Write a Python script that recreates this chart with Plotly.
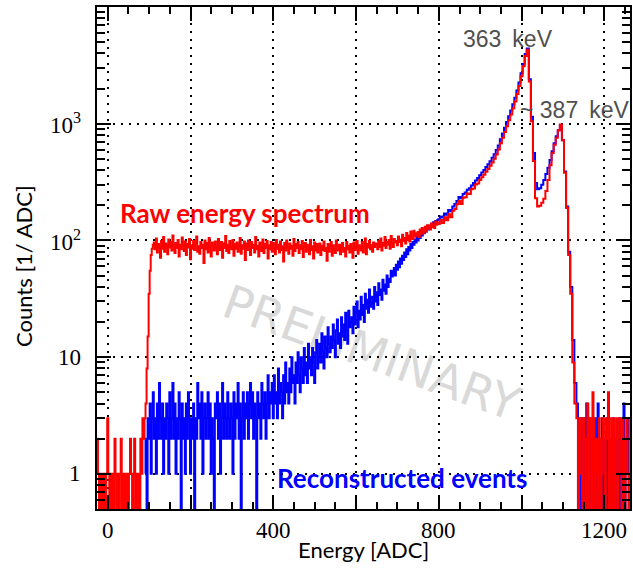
import math
import plotly.graph_objects as go

# ---------------- data ----------------
# Histogram bin layout: (centre of first bin [ADC], bin width [ADC]) per segment
FINE_START_RAW = -25
FINE_START_REC = 90
FINE_WIDTH = 2.5
COARSE_START = 800
COARSE_WIDTH = 5
TAIL_START = 1135
TAIL_WIDTH = 2.5

# Raw energy spectrum (red), counts per ADC
raw_low = [2, 1, 0, 1, 0, 1, 0, 1, 0, 1, 3, 1, 0, 1, 0, 1, 0, 2, 1, 0,
           1, 0, 1, 2, 0, 1, 0, 1, 0, 1, 0, 1, 2, 1, 0, 1, 2, 0, 1, 0,
           1, 0, 2, 1, 3, 2]
raw_edge = [3, 4, 8, 15, 35, 55, 75, 85, 92]
raw_plateau = [
    96, 84, 104, 79, 93, 88, 71, 99, 85, 107, 80, 94, 90, 76, 102, 87, 97, 82, 110, 89,
    78, 95, 86, 101, 73, 92, 84, 106, 90, 81, 98, 75, 93, 87, 103, 69, 91, 85, 99, 83,
    94, 108, 80, 89, 77, 97, 86, 92, 64, 100, 84, 95, 79, 105, 88, 73, 96, 91, 82, 98,
    87, 76, 103, 90, 83, 97, 71, 94, 86, 109, 81, 92, 78, 99, 88, 84, 101, 74, 93, 85,
    96, 80, 89, 105, 77, 91, 85, 98, 68, 94, 83, 100, 88, 75, 97, 86, 92, 79, 107, 84,
    90, 73, 96, 87, 81, 102, 78, 93, 86, 99, 70, 91, 84, 97, 80, 95, 88, 76, 101, 85,
    92, 79, 98, 83, 89, 66, 95, 82, 100, 87, 77, 94, 85, 90, 74, 103, 81, 93, 86, 97,
    78, 91, 84, 99, 72, 88, 95, 80, 92, 85, 76, 101, 83, 89, 70, 96, 82, 93, 79, 87,
    94, 75, 90, 83, 98, 81, 86, 67, 93, 80, 89, 97, 74, 91, 84, 78, 100, 85, 82, 92,
    76, 88, 95, 80, 86, 73, 97, 84, 90, 79, 93, 85, 71, 96, 83, 88, 99, 77, 91, 86,
    82, 97, 79, 90, 104, 76, 93, 87, 99, 84, 91, 80, 96, 88, 94,
]
raw_rise = [
    93, 84, 99, 88, 104, 82, 95, 90, 107, 86, 97, 92, 101, 85, 109, 94, 88, 103, 96, 99,
    91, 108, 97, 102, 89, 112, 99, 105, 94, 116, 101, 110, 98, 119, 106, 103, 121, 108, 115, 111,
    118, 107, 124, 113, 128, 116, 122, 131, 119, 135, 126, 132, 124, 140, 130, 137, 128, 145, 136, 142,
]
raw_upper = [
    138, 150, 141, 158, 149, 168, 158, 180, 186, 204,
    218, 205, 232, 234, 252, 250, 274, 279, 302, 308,
    330, 348, 366, 388, 410, 436, 466, 500, 545, 600,
    680, 760, 850, 950, 1070, 1200, 1360, 1550, 1800, 2100,
    2550, 3100,
]
raw_peaks = [3800, 4300, 2300, 1050, 480, 230, 195, 198, 210, 228, 265, 330, 440,
             560, 660, 760, 880, 985, 720, 380, 190, 75, 35, 9, 4]
raw_tail = [3, 0, 2, 3, 1, 0, 3, 2, 0, 2, 4, 0, 3, 2, 0, 5, 3, 0, 2, 1,
            0, 3, 2, 0, 2, 3, 1, 0, 3, 2, 5, 0, 2, 3, 0, 3, 0, 2, 3, 0,
            1, 3, 2, 0, 3, 2, 0, 2, 3, 1, 0]

# Reconstructed events (blue), counts per ADC
rec_low = [
    1, 2, 0, 3, 2, 4, 1, 3, 5, 2, 3, 1, 4, 2, 6, 3, 2, 4, 1, 3,
    2, 4, 3, 1, 5, 2, 3, 6, 2, 4, 1, 3, 2, 5, 3, 0, 4, 2, 3, 1,
    4, 2, 5, 3, 1, 3, 2, 4, 0, 3, 2, 6, 3, 4, 2, 5, 1, 3, 4, 2,
    3, 5, 2, 4, 1, 3, 2, 0, 4, 3, 5, 2, 4, 1, 3, 6, 2, 4, 3, 2,
    5, 3, 2, 4, 3, 1, 5, 2, 4, 3, 6, 2, 4, 0, 3, 5, 2, 4, 3, 5,
    2, 4, 6, 3, 5, 2, 4, 3, 0, 5, 3, 4, 2, 6, 4, 3, 5, 2, 4, 7,
]
rec_rise = [
    3, 5, 4, 6, 3, 7, 4, 5, 3, 8, 4, 6, 5, 3, 7, 4, 9, 5, 6, 4,
    8, 5, 10, 6, 7, 4, 9, 6, 11, 7, 5, 10, 8, 6, 12, 7, 9, 6, 13, 8,
    10, 7, 12, 9, 6, 11, 14, 8, 10, 13, 9, 16, 11, 8, 15, 12, 10, 18, 13, 11,
    15, 12, 19, 14, 10, 17, 21, 13, 16, 12, 22, 15, 19, 14, 24, 17, 13, 25, 18, 20,
    22, 16, 27, 19, 24, 30, 18, 25, 21, 33, 23, 28, 20, 35, 26, 31, 24, 38, 27, 29,
    33, 26, 40, 30, 36, 28, 43, 34, 38, 31, 46, 37, 42, 35, 50, 40, 47, 44, 55, 49,
    53, 58, 50, 62, 56, 66, 59, 70, 63, 74, 68, 79, 72, 84, 76, 88, 82, 93, 86, 97,
    92, 102, 96, 107, 100, 112, 105, 117, 110, 121, 115, 126, 119, 130, 124, 134, 128, 139, 133, 143,
    138, 147, 142, 150,
]
rec_upper = [
    152, 160, 157, 170, 166, 182, 178, 195, 205, 218,
    235, 230, 250, 258, 272, 280, 296, 310, 326, 342,
    362, 382, 402, 425, 450, 478, 510, 548, 595, 650,
    735, 825, 925, 1035, 1160, 1300, 1470, 1670, 1930, 2250,
    2700, 3250,
]
rec_peaks = [3950, 4400, 2400, 1150, 560, 310, 275, 280, 300, 330, 370, 420, 490,
             580, 680, 780, 880, 975, 720, 390, 195, 80, 40, 14, 6]
rec_tail = [4, 0, 2, 3, 0, 1, 3, 0, 2, 4, 0, 1, 3, 0, 2, 1, 0, 3, 2, 0,
            4, 1, 0, 2, 3, 0, 1, 2, 0, 3, 4, 0, 2, 1, 0, 3, 2, 0, 1, 2,
            0, 3, 1, 0, 2, 4, 0, 2, 1, 3, 0]

x_major_ticks = [0, 200, 400, 600, 800, 1000, 1200]
x_tick_labels = {0: "0", 400: "400", 800: "800", 1200: "1200"}
y_major_ticks = [1, 10, 100, 1000, 10000]
y_tick_labels = {1: "1", 10: "10", 100: "10<sup>2</sup>", 1000: "10<sup>3</sup>"}


# ---------------- figure ----------------
def centres(start, width, values):
    return [start + width * i for i in range(len(values))]


ZERO_DRAW = 0.2  # empty bins are drawn below the axis floor, like ROOT


def build(segments):
    xs, ys = [], []
    for start, width, values in segments:
        xs += centres(start, width, values)
        ys += [v if v > 0 else ZERO_DRAW for v in values]
    return xs, ys


raw_x, raw_y = build([
    (FINE_START_RAW, FINE_WIDTH, raw_low + raw_edge + raw_plateau + raw_rise),
    (COARSE_START, COARSE_WIDTH, raw_upper + raw_peaks),
    (TAIL_START, TAIL_WIDTH, raw_tail),
])
rec_x, rec_y = build([
    (FINE_START_REC, FINE_WIDTH, rec_low + rec_rise),
    (COARSE_START, COARSE_WIDTH, rec_upper + rec_peaks),
    (TAIL_START, TAIL_WIDTH, rec_tail),
])

fig = go.Figure()
fig.add_trace(go.Scatter(x=rec_x, y=rec_y, mode="lines",
                         line=dict(color="#0000ff", width=2, shape="hvh"),
                         showlegend=False))
fig.add_trace(go.Scatter(x=raw_x, y=raw_y, mode="lines",
                         line=dict(color="#ff0000", width=2, shape="hvh"),
                         showlegend=False))

x_minor = [v for v in range(0, 1261, 50) if v % 200 != 0]
y_minor = [m * 10 ** d for d in range(-1, 4) for m in range(2, 10)]
y_minor = [v for v in y_minor if v >= 0.5]

fig.update_xaxes(range=[-26, 1262], tickmode="array", tickvals=x_major_ticks,
                 showticklabels=False, ticks="inside", ticklen=14, tickwidth=2,
                 tickcolor="black", showline=True, linewidth=2, linecolor="black",
                 mirror="allticks", showgrid=True, gridcolor="black", gridwidth=2,
                 griddash="2px,6px", zeroline=False,
                 minor=dict(tickvals=x_minor, ticks="inside", ticklen=7,
                            tickwidth=2, tickcolor="black", showgrid=False))
fig.update_yaxes(type="log", range=[math.log10(0.5), 4], tickmode="array",
                 tickvals=y_major_ticks, showticklabels=False, ticks="inside",
                 ticklen=14, tickwidth=2, tickcolor="black", showline=True,
                 linewidth=2, linecolor="black", mirror="allticks", showgrid=True,
                 gridcolor="black", gridwidth=2, griddash="2px,6px", zeroline=False,
                 minor=dict(tickvals=y_minor, ticks="inside", ticklen=8,
                            tickwidth=2, tickcolor="black", showgrid=False))

tickfont = dict(family="Liberation Serif", size=23, color="black")
label_font = dict(family="Lato", size=22, color="black")
annotations = []
for v, t in x_tick_labels.items():
    annotations.append(dict(text=t, x=v, xref="x", yref="paper", y=0, yshift=-21,
                            xanchor="center", yanchor="middle", showarrow=False,
                            font=tickfont))
for v, t in y_tick_labels.items():
    annotations.append(dict(text=t, xref="paper", x=0, xshift=-14, yref="y",
                            y=math.log10(v), xanchor="right", yanchor="middle",
                            showarrow=False, font=tickfont))
annotations += [
    dict(text="Energy [ADC]", xref="paper", yref="paper", x=0.5, y=0,
         yshift=-40, xanchor="center", yanchor="middle", showarrow=False,
         font=label_font),
    dict(text="Counts [1/ ADC]", xref="paper", yref="paper", x=0, y=0.5,
         xshift=-74, yshift=-8, textangle=-90, xanchor="center", yanchor="middle",
         showarrow=False, font=label_font),
    dict(text="<b>Raw energy spectrum</b>", x=24, y=math.log10(173),
         xanchor="left", yanchor="middle", showarrow=False,
         font=dict(family="Lato", size=26, color="#ff0000")),
    dict(text="<b>Reconstructed events</b>", x=405, y=math.log10(0.93),
         xanchor="left", yanchor="middle", showarrow=False,
         font=dict(family="Lato", size=26, color="#0000ff")),
    dict(text="363\u2009 keV", x=968, y=math.log10(5300),
         xanchor="center", yanchor="middle", showarrow=False,
         font=dict(family="Liberation Sans", size=23, color="#505050")),
    dict(text="~ 387\u2009 keV", x=1128, y=math.log10(1300),
         xanchor="center", yanchor="middle", showarrow=False,
         font=dict(family="Liberation Sans", size=23, color="#505050")),
]

shapes = [
    dict(type="rect", xref="paper", yref="paper", layer="below",
         x0=0.415, x1=0.619, y0=0.27, y1=0.364,
         line=dict(width=0), fillcolor="rgba(0,0,0,0)",
         label=dict(text="PRELIMINARY", textangle=20,
                    textposition="middle center",
                    font=dict(family="DejaVu Sans", size=47, color="#d9d9d9"))),
]

fig.update_layout(width=633, height=573, margin=dict(l=97, r=1, t=7, b=64),
                  paper_bgcolor="white", plot_bgcolor="white",
                  annotations=annotations, shapes=shapes, showlegend=False)

fig.write_html("out.html")
